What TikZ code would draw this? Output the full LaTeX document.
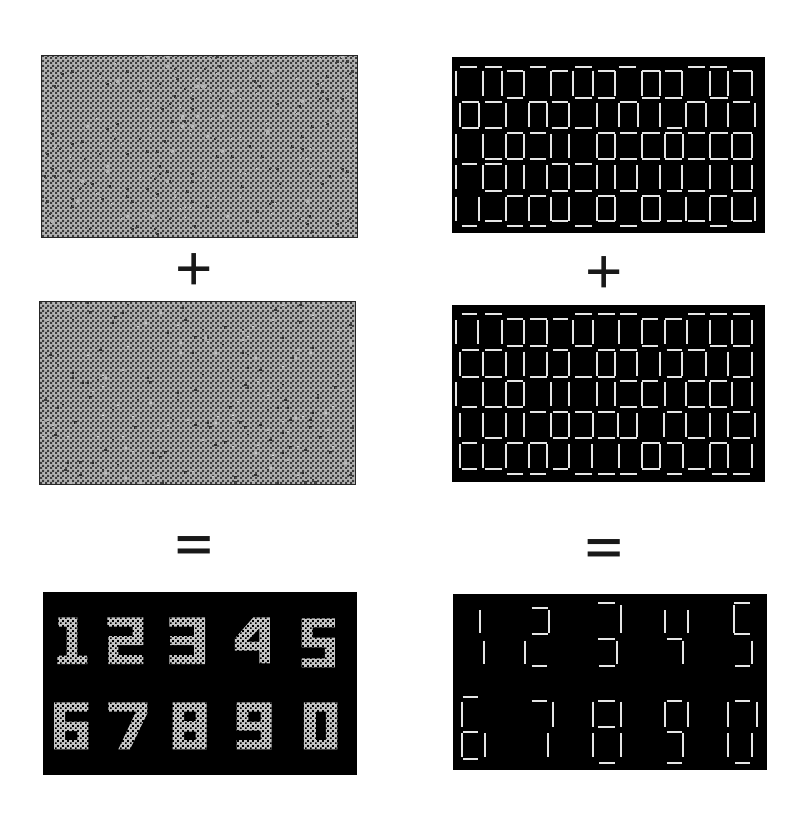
\documentclass[tikz,border=0pt]{standalone}
\usepackage{fontspec}
\setmainfont{Liberation Sans}
\usetikzlibrary{patterns}
\definecolor{texlight}{HTML}{B2B2B2}
\definecolor{texdark}{HTML}{3C3C3C}
\definecolor{digitlight}{HTML}{C4C4C4}
\definecolor{seglight}{HTML}{E6E6E6}
\pgfdeclarepatternformonly{ditherfine}{\pgfpointorigin}{\pgfqpoint{5pt}{5pt}}{\pgfqpoint{5pt}{5pt}}{%
  \pgfpathrectangle{\pgfpointorigin}{\pgfqpoint{2.5pt}{2.5pt}}%
  \pgfpathrectangle{\pgfqpoint{2.5pt}{2.5pt}}{\pgfqpoint{2.5pt}{2.5pt}}%
  \pgfusepath{fill}}
\pgfdeclarepatternformonly{dithersparse}{\pgfpointorigin}{\pgfqpoint{5pt}{5pt}}{\pgfqpoint{5pt}{5pt}}{%
  \pgfpathrectangle{\pgfpointorigin}{\pgfqpoint{2pt}{2pt}}%
  \pgfpathrectangle{\pgfqpoint{2.5pt}{2.5pt}}{\pgfqpoint{2pt}{2pt}}%
  \pgfusepath{fill}}
\tikzset{
  segline/.style={draw=seglight,line width=2pt},
  framebox/.style={draw=black!85,line width=0.8pt},
  panelblack/.style={fill=black},
  plussign/.style={font=\fontsize{64}{64}\selectfont,text=black!90,inner sep=0pt},
  eqsign/.style={font=\fontsize{64}{64}\selectfont\bfseries,text=black!90,inner sep=0pt,yscale=0.72},
}
\newcommand\hsegs[2]{\foreach \a/\b in {#2}{\draw[segline] (\a,#1) -- (\b,#1);}}
\newcommand\vsegs[3]{\foreach \a in {#3}{\draw[segline] (\a,#1) -- (\a,#2);}}
% sparse specks: x0,y0,columns,rows,count,colour
\newcommand\specks[6]{%
  \foreach \k in {1,...,#5}{%
    \pgfmathrandominteger{\cx}{0}{#3}%
    \pgfmathrandominteger{\cy}{0}{#4}%
    \fill[#6] ({#1+\cx*2.5},{#2+\cy*2.5}) rectangle ++(2.5,2.5);}}
\begin{document}
\begin{tikzpicture}[x=1pt,y=-1pt]
\pgfmathsetseed{4242}
\useasboundingbox (0,0) rectangle (798,819);
\fill[white] (0,0) rectangle (798,819);
% noise panels
\fill[texlight] (41,55) rectangle (357,237);
\fill[pattern=ditherfine,pattern color=texdark] (41,55) rectangle (357,237);
\specks{41}{55}{125}{71}{120}{texdark}
\specks{41}{55}{125}{71}{120}{texlight}
\draw[framebox] (41,55) rectangle (357,237);
\fill[texlight] (39,301) rectangle (355,484);
\fill[pattern=ditherfine,pattern color=texdark] (39,301) rectangle (355,484);
\specks{39}{301}{125}{72}{120}{texdark}
\specks{39}{301}{125}{72}{120}{texlight}
\draw[framebox] (39,301) rectangle (355,484);
% left result
\fill[panelblack] (43,592) rectangle (357,775);
\begin{scope}[shift={(30,585)},x=0.33333pt,y=-0.33333pt]
\fill[digitlight,even odd rule]
 (85,97)--(142,97)--(142,212)--(172,212)--(172,237)--(82,237)--(82,212)--(110,212)--(110,125)--(85,125)--cycle
 (232,97)--(340,97)--(340,180)--(265,180)--(265,210)--(340,210)--(340,237)--(235,237)--(235,153)--(308,153)--(308,125)--(232,125)--cycle
 (418,97)--(525,97)--(525,237)--(418,237)--(418,210)--(492,210)--(492,180)--(420,180)--(420,153)--(492,153)--(492,125)--(418,125)--cycle
 (670,97)--(720,97)--(720,235)--(688,235)--(688,197)--(615,197)--(615,160)--cycle (688,130)--(688,170)--(650,170)--cycle
 (815,100)--(915,100)--(915,127)--(848,127)--(848,158)--(915,158)--(915,247)--(815,247)--(815,220)--(885,220)--(885,187)--(815,187)--cycle
 (72,352)--(175,352)--(175,380)--(105,380)--(105,410)--(175,410)--(175,493)--(72,493)--cycle (105,438)--(142,438)--(142,465)--(105,465)--cycle
 (235,352)--(352,352)--(352,385)--(300,493)--(265,493)--(318,380)--(235,380)--cycle
 (428,352)--(530,352)--(530,493)--(428,493)--cycle (462,380)--(497,380)--(497,408)--(462,408)--cycle (462,440)--(497,440)--(497,465)--(462,465)--cycle
 (620,352)--(725,352)--(725,493)--(620,493)--(620,465)--(692,465)--(692,437)--(620,437)--cycle (655,380)--(692,380)--(692,410)--(655,410)--cycle
 (822,352)--(922,352)--(922,493)--(822,493)--cycle (858,380)--(888,380)--(888,465)--(858,465)--cycle;
\end{scope}
\fill[pattern=dithersparse,pattern color=black] (44,593) rectangle (356,774);
% right panels
\fill[panelblack] (452,57) rectangle (765,233);
\fill[panelblack] (452,305) rectangle (765,482);
\fill[panelblack] (453,594) rectangle (767,770);
\begin{scope}[shift={(440,50)},x=0.33333pt,y=-0.33333pt]
\hsegs{50}{60/112,135/185,270/318,405/455,538/588,745/795,810/862}
\hsegs{62}{200/250,335/385,475/525,605/660,675/725,880/935}
\vsegs{62}{138}{48,130,185,252,333,400,458,525,605,660,725,810,865,935}
\hsegs{143}{200/250,405/455,475/525,605/660,675/725,810/865}
\hsegs{155}{65/118,135/185,268/320,335/385,540/592,740/795,880/930}
\vsegs{158}{232}{60,118,198,268,320,388,470,538,595,660,738,798,865,945}
\hsegs{235}{65/118,135/185,335/385,405/455,680/725}
\hsegs{250}{200/250,270/318,475/525,540/590,605/660,675/725,745/795,810/865,880/935}
\vsegs{253}{325}{48,130,198,252,333,388,470,525,605,675,730,810,875,935}
\hsegs{328}{135/185,200/250,270/318,475/525,540/590,605/660,675/725,745/795,810/865,880/935}
\hsegs{342}{65/112,135/185,335/385,405/455}
\vsegs{345}{418}{48,130,198,252,320,388,470,525,592,660,725,810,875,935}
\hsegs{422}{135/185,335/385,405/455,540/590,680/725,745/795,880/935}
\hsegs{437}{200/250,270/318,475/525,605/660,810/862}
\vsegs{440}{512}{48,118,198,268,333,388,470,525,605,660,738,810,875,945}
\hsegs{514}{135/185,335/385,475/525,605/660,680/725,745/795,880/935}
\hsegs{528}{65/112,200/250,270/318,405/455,540/590,810/862}
\end{scope}
\begin{scope}[shift={(440,300)},x=0.33333pt,y=-0.33333pt]
\hsegs{43}{65/112,135/185,405/455,475/525,540/590,745/795,810/862,880/930}
\hsegs{57}{200/250,270/320,340/385,605/655,675/725}
\vsegs{60}{133}{48,115,185,252,320,400,458,538,605,675,740,810,875,935}
\hsegs{137}{200/250,270/320,405/455,605/655,810/862,880/930}
\hsegs{150}{65/118,135/185,340/385,475/525,540/590,680/725,745/795}
\vsegs{155}{228}{60,130,198,252,320,388,470,525,592,660,725,798,865,935}
\hsegs{230}{65/118,135/185,270/320,340/385,405/455,475/525,680/725,880/930}
\hsegs{242}{200/250,540/590,605/655,745/795,810/862}
\vsegs{247}{318}{48,130,198,252,333,388,470,525,605,675,738,810,875,935}
\hsegs{322}{65/112,135/185,200/250,540/590,605/655,745/795,810/862}
\hsegs{336}{270/318,340/385,405/455,475/525,680/725,880/930}
\vsegs{340}{412}{60,130,198,252,333,388,458,535,592,672,738,810,865,945}
\hsegs{414}{135/185,340/385,405/455,475/525,540/590,745/795,880/930}
\hsegs{428}{65/112,200/250,270/320,605/660,680/725,810/862}
\vsegs{432}{505}{60,130,198,268,320,388,455,538,605,660,730,810,865,935}
\hsegs{507}{65/112,135/185,340/385,605/660,745/795}
\hsegs{522}{200/250,270/318,405/455,475/525,540/590,680/725,815/862,880/930}
\end{scope}
\begin{scope}[shift={(440,590)},x=0.33333pt,y=-0.33333pt]
\vsegs{60}{128}{120,675,745}
\vsegs{152}{222}{133,255,530,730,935}
\vsegs{60}{130}{328}
\vsegs{45}{130}{542,882}
\hsegs{40}{475/525,882/930}
\hsegs{55}{275/325}
\hsegs{133}{275/325,882/930}
\hsegs{148}{475/525,680/725}
\hsegs{227}{275/322,478/525,885/930}
\hsegs{320}{68/115}
\hsegs{333}{275/322,475/525,680/725,885/930}
\vsegs{335}{410}{67,338,460,542,675,745,865,950}
\hsegs{411}{475/525}
\hsegs{427}{70/115,680/725}
\vsegs{430}{502}{67,135,323,460,542,730,865,935}
\hsegs{506}{70/115}
\hsegs{518}{478/525,680/725,885/930}
\end{scope}
% operators
\node[plussign] (plusL) at (194,272) {+};
\node[plussign] (plusR) at (604,275) {+};
\node[eqsign] (eqL) at (194,549) {=};
\node[eqsign] (eqR) at (604,552) {=};
\end{tikzpicture}
\end{document}
